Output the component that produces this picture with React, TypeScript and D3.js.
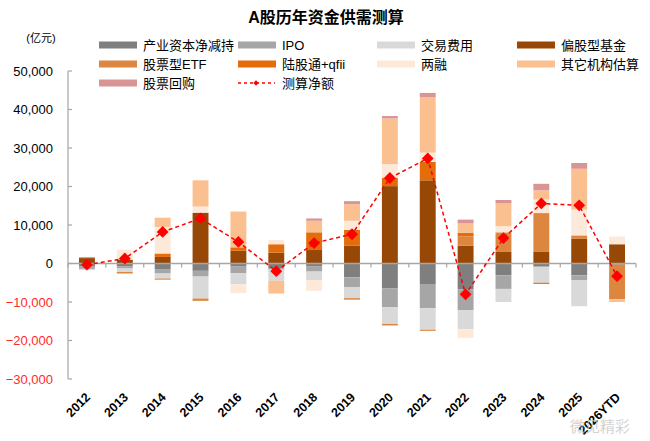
import * as d3 from 'd3';

// 亿元
const years = ['2012', '2013', '2014', '2015', '2016', '2017', '2018', '2019', '2020', '2021', '2022', '2023', '2024', '2025', '2026YTD'];

const industryNetSell = [-800, -700, -1600, -1900, -800, -1200, -800, -3600, -6500, -5500, -6700, -3100, -700, -3100, -300];
const ipo = [-600, -600, -1000, -1500, -1700, -400, -1300, -2500, -4900, -6100, -5400, -3500, -300, -1300, 0];
const tradingFees = [-300, -900, -1300, -5700, -2900, -2900, -2200, -2900, -4300, -5600, -5000, -3400, -4000, -6700, 0];
const equityFunds = [1400, 1000, 1700, 13200, 3300, 2800, 3500, 4600, 20100, 21600, 4600, 3000, 3000, 6400, 5000];
const stockEtf = [0, -400, -300, -600, 0, 0, 0, -400, -400, -300, 2400, 5100, 10100, 900, -9000];
const northbound = [200, 0, 900, 0, 900, 2200, 4600, 4100, 2200, 4800, 1000, 0, -300, 0, 0];
const margin = [0, 2600, 6900, 1600, -2300, 1100, -2800, 2400, 3500, 2400, -2200, 1600, 3500, 6700, 2000];
const otherInst = [0, 0, 2400, 6800, 9300, -3300, 3000, 4300, 11900, 14400, 2400, 5900, 2400, 10600, -700];
const buyback = [0, 0, 0, 0, 0, 0, 600, 800, 600, 1100, 1000, 900, 1700, 1500, 0];
const netAmount = [-300, 1300, 8200, 11700, 5600, -2000, 5300, 7600, 22200, 27300, -8000, 6600, 15600, 15100, -3300];

const yTicks = [-30000, -20000, -10000, 0, 10000, 20000, 30000, 40000, 50000];

const series = [
  { key: '产业资本净减持', values: industryNetSell, color: '#7f7f7f' },
  { key: 'IPO', values: ipo, color: '#a6a6a6' },
  { key: '交易费用', values: tradingFees, color: '#d9d9d9' },
  { key: '偏股型基金', values: equityFunds, color: '#974806' },
  { key: '股票型ETF', values: stockEtf, color: '#dc8640' },
  { key: '陆股通+qfii', values: northbound, color: '#e46c0a' },
  { key: '两融', values: margin, color: '#fde9d9' },
  { key: '其它机构估算', values: otherInst, color: '#fac090' },
  { key: '股票回购', values: buyback, color: '#d99594' },
];

const FONT = '"Liberation Sans", Arial, "Noto Sans CJK SC", sans-serif';
const W = 650;
const H = 441;

export default function App() {
  const x = d3.scaleBand<string>()
    .domain(years)
    .range([68, 636])
    .paddingInner(0.58)
    .paddingOuter(0.29);

  const y = d3.scaleLinear().domain([-30000, 50000]).range([379, 71]);

  const table = years.map((yr, i) => {
    const row: Record<string, number | string> = { year: yr };
    series.forEach(s => { row[s.key] = s.values[i]; });
    return row;
  });

  const stacked = d3.stack<Record<string, number | string>>()
    .keys(series.map(s => s.key))
    .value((d, k) => d[k] as number)
    .offset(d3.stackOffsetDiverging)(table);

  const cx = (yr: string) => (x(yr) || 0) + x.bandwidth() / 2;

  const netLine = d3.line<number>()
    .x((_, i) => cx(years[i]))
    .y(d => y(d));

  const diamond = d3.symbol().type(d3.symbolSquare).size(70)();

  const boundaries = years.map(yr => x(yr)! - (x.step() - x.bandwidth()) / 2).concat([636]);

  const legendCols = [99, 238, 377, 517];
  const legendRows = [45, 64, 83];
  const legendItems = [...series.map(s => ({ key: s.key, color: s.color, line: false })), { key: '测算净额', color: '#ff0000', line: true }];

  return (
    <svg width={W} height={H} style={{ position: 'absolute', left: 0, top: 0, background: '#fff' }} fontFamily={FONT}>
      <text x={326} y={23} textAnchor="middle" fontSize={16} fontWeight="bold" fill="#000">A股历年资金供需测算</text>
      <text x={41} y={42} textAnchor="middle" fontSize={11} fill="#000">(亿元)</text>

      {legendItems.map((item, i) => {
        const lx = legendCols[i % 4];
        const ly = legendRows[Math.floor(i / 4)];
        return (
          <g key={item.key}>
            {item.line ? (
              <g>
                <line x1={lx} x2={lx + 37} y1={ly} y2={ly} stroke={item.color} strokeWidth={1.3} strokeDasharray="3,3" />
                <path d={diamond} transform={`translate(${lx + 18},${ly}) rotate(45) scale(0.45)`} fill={item.color} />
              </g>
            ) : (
              <rect x={lx} y={ly - 3.5} width={38} height={7} fill={item.color} />
            )}
            <text x={lx + 44} y={ly + 4.5} fontSize={13} fill="#000">{item.key}</text>
          </g>
        );
      })}

      {/* bars */}
      {stacked.map((layer, li) => (
        <g key={layer.key} fill={series[li].color}>
          {layer.map((d, i) => {
            const top = y(Math.max(d[0], d[1]));
            const bot = y(Math.min(d[0], d[1]));
            if (bot - top <= 0) return null;
            return <rect key={i} x={x(years[i])} y={top} width={x.bandwidth()} height={bot - top} />;
          })}
        </g>
      ))}

      {/* y axis */}
      <line x1={68} x2={68} y1={y(50000)} y2={y(-30000)} stroke="#a6a6a6" strokeWidth={1.2} />
      {yTicks.map(t => (
        <g key={t}>
          <line x1={68} x2={72} y1={y(t)} y2={y(t)} stroke="#a6a6a6" strokeWidth={1.2} />
          <text x={53} y={y(t) + 4.5} textAnchor="end" fontSize={13} fill={t < 0 ? '#ff2a2a' : '#000'}>
            {d3.format(',')(t)}
          </text>
        </g>
      ))}

      {/* x axis at zero */}
      <line x1={68} x2={636} y1={y(0)} y2={y(0)} stroke="#a6a6a6" strokeWidth={1.5} />
      {boundaries.map((bx, i) => (
        <line key={i} x1={bx} x2={bx} y1={y(0)} y2={y(0) + 4} stroke="#a6a6a6" strokeWidth={1.2} />
      ))}
      {years.map(yr => (
        <text key={yr} transform={`translate(${cx(yr) + 4},${398}) rotate(-45)`} textAnchor="end" fontSize={12.5} fontWeight="bold" fill="#000">
          {yr}
        </text>
      ))}

      {/* net amount line */}
      <path d={netLine(netAmount) || ''} fill="none" stroke="#ff0000" strokeWidth={1.5} strokeDasharray="4,3" />
      {netAmount.map((v, i) => (
        <path key={i} d={diamond} transform={`translate(${cx(years[i])},${y(v)}) rotate(45)`} fill="#ff0000" />
      ))}

      <text x={600} y={432} textAnchor="middle" fontSize={15} fill="#c8c8c8" opacity={0.8}>微见精彩</text>
    </svg>
  );
}
